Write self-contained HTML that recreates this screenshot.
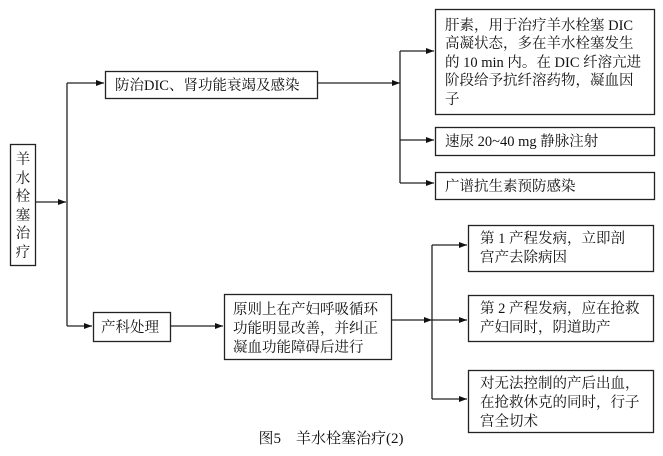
<!DOCTYPE html>
<html><head><meta charset="utf-8"><style>
html,body{margin:0;padding:0;background:#fff;}
svg{display:block}
text{font-family:"Liberation Serif","Noto Serif CJK SC","Noto Sans CJK SC",serif;font-size:14.5px;fill:#111;}
</style></head><body>
<svg width="663" height="456" viewBox="0 0 663 456" xmlns="http://www.w3.org/2000/svg">
<defs><marker id="a" markerWidth="8" markerHeight="6" refX="8" refY="3" orient="auto" markerUnits="userSpaceOnUse"><path d="M0,0 L8,3 L0,6 Z" fill="#111"/></marker></defs>
<g fill="none" stroke="#222" stroke-width="1.3">
<rect x="10.5" y="144.5" width="25" height="121"/>
<rect x="105.5" y="71.5" width="212" height="27"/>
<rect x="435.5" y="9.5" width="219" height="105"/>
<rect x="435.5" y="127.5" width="219" height="28"/>
<rect x="435.5" y="172.5" width="219" height="27"/>
<rect x="93.5" y="312.5" width="77" height="29"/>
<rect x="224.5" y="294.5" width="167" height="65"/>
<rect x="468.5" y="225.5" width="185" height="46"/>
<rect x="468.5" y="295.5" width="185" height="46"/>
<rect x="468.5" y="370.5" width="185" height="62"/>
<path d="M36,202 H66" marker-end="url(#a)"/>
<path d="M67,83 V326"/>
<path d="M67,83 H104" marker-end="url(#a)"/>
<path d="M67,326 H92" marker-end="url(#a)"/>
<path d="M318,83 H400" marker-end="url(#a)"/>
<path d="M400,51 V183"/>
<path d="M400,51 H434" marker-end="url(#a)"/>
<path d="M400,140 H434" marker-end="url(#a)"/>
<path d="M400,183 H434" marker-end="url(#a)"/>
<path d="M171,326 H223" marker-end="url(#a)"/>
<path d="M392,320 H432" marker-end="url(#a)"/>
<path d="M432,245 V399"/>
<path d="M432,245 H467" marker-end="url(#a)"/>
<path d="M432,320 H467" marker-end="url(#a)"/>
<path d="M432,399 H467" marker-end="url(#a)"/>
</g>
<g text-anchor="middle">
<text x="23" y="164">羊</text><text x="23" y="183">水</text><text x="23" y="201">栓</text><text x="23" y="220">塞</text><text x="23" y="238">治</text><text x="23" y="257">疗</text>
</g>
<text x="115" y="90">防治DIC、肾功能衰竭及感染</text>
<text x="445" y="30">肝素，用于治疗羊水栓塞 DIC</text>
<text x="445" y="48">高凝状态，多在羊水栓塞发生</text>
<text x="445" y="67">的 10 min 内。在 DIC 纤溶亢进</text>
<text x="445" y="85">阶段给予抗纤溶药物，凝血因</text>
<text x="445" y="104">子</text>
<text x="445" y="146">速尿 20~40 mg 静脉注射</text>
<text x="445" y="191">广谱抗生素预防感染</text>
<text x="101" y="332">产科处理</text>
<text x="233" y="314">原则上在产妇呼吸循环</text>
<text x="233" y="333">功能明显改善，并纠正</text>
<text x="233" y="352">凝血功能障碍后进行</text>
<text x="480" y="243">第 1 产程发病，立即剖</text>
<text x="480" y="262">宫产去除病因</text>
<text x="480" y="313">第 2 产程发病，应在抢救</text>
<text x="480" y="332">产妇同时，阴道助产</text>
<text x="480" y="388">对无法控制的产后出血，</text>
<text x="480" y="407">在抢救休克的同时，行子</text>
<text x="480" y="426">宫全切术</text>
<text x="331" y="443" text-anchor="middle" style="font-size:15px">图5　羊水栓塞治疗(2)</text>
</svg>
</body></html>
